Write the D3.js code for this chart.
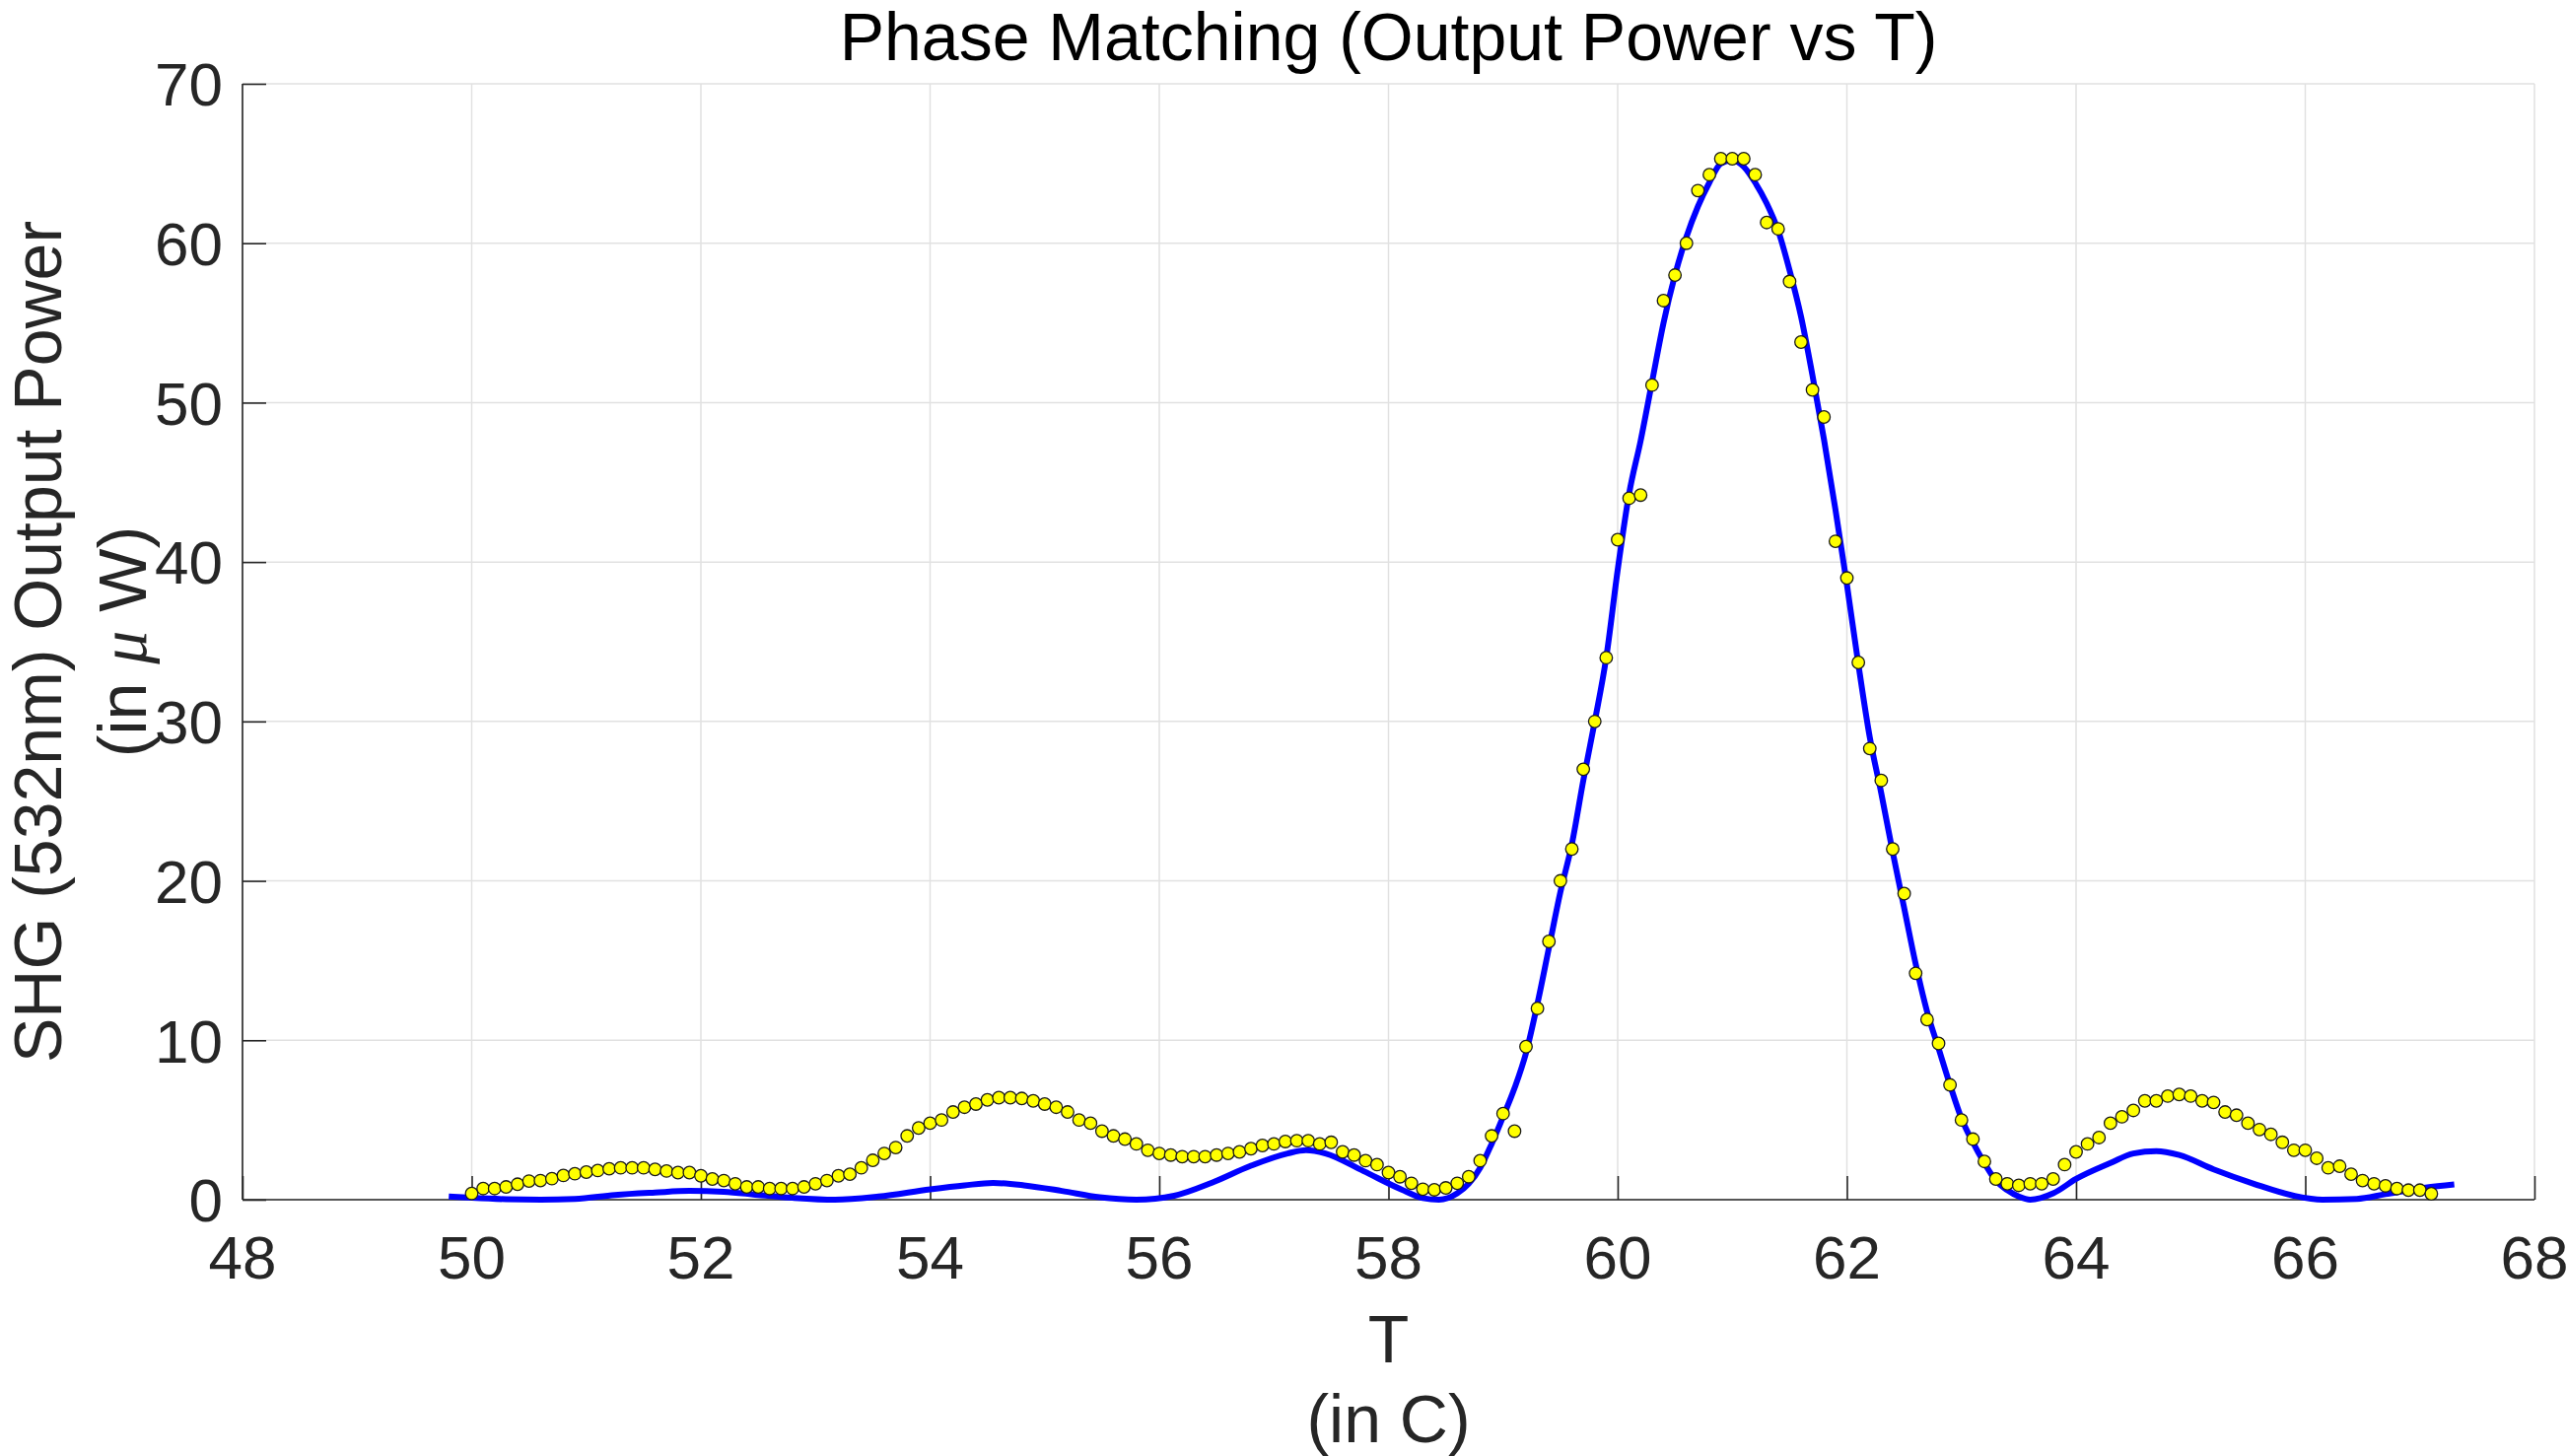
<!DOCTYPE html>
<html>
<head>
<meta charset="utf-8">
<script src="https://cdn.jsdelivr.net/npm/d3@7"></script>
<style>
  body { margin: 0; background: #fff; }
  text { font-family: "Liberation Sans", Arial, Helvetica, sans-serif; }
</style>
</head>
<body>
<svg width="2604" height="1477"></svg>
<script>
// measured SHG power (yellow dots)
var measT = [
  50.0, 50.1, 50.2, 50.3, 50.4, 50.5, 50.6, 50.7, 50.8, 50.9,
  51.0, 51.1, 51.2, 51.3, 51.4, 51.5, 51.6, 51.7, 51.8, 51.9,
  52.0, 52.1, 52.2, 52.3, 52.4, 52.5, 52.6, 52.7, 52.8, 52.9,
  53.0, 53.1, 53.2, 53.3, 53.4, 53.5, 53.6, 53.7, 53.8, 53.9,
  54.0, 54.1, 54.2, 54.3, 54.4, 54.5, 54.6, 54.7, 54.8, 54.9,
  55.0, 55.1, 55.2, 55.3, 55.4, 55.5, 55.6, 55.7, 55.8, 55.9,
  56.0, 56.1, 56.2, 56.3, 56.4, 56.5, 56.6, 56.7, 56.8, 56.9,
  57.0, 57.1, 57.2, 57.3, 57.4, 57.5, 57.6, 57.7, 57.8, 57.9,
  58.0, 58.1, 58.2, 58.3, 58.4, 58.5, 58.6, 58.7, 58.8, 58.9,
  59.0, 59.1, 59.2, 59.3, 59.4, 59.5, 59.6, 59.7, 59.8, 59.9,
  60.0, 60.1, 60.2, 60.3, 60.4, 60.5, 60.6, 60.7, 60.8, 60.9,
  61.0, 61.1, 61.2, 61.3, 61.4, 61.5, 61.6, 61.7, 61.8, 61.9,
  62.0, 62.1, 62.2, 62.3, 62.4, 62.5, 62.6, 62.7, 62.8, 62.9,
  63.0, 63.1, 63.2, 63.3, 63.4, 63.5, 63.6, 63.7, 63.8, 63.9,
  64.0, 64.1, 64.2, 64.3, 64.4, 64.5, 64.6, 64.7, 64.8, 64.9,
  65.0, 65.1, 65.2, 65.3, 65.4, 65.5, 65.6, 65.7, 65.8, 65.9,
  66.0, 66.1, 66.2, 66.3, 66.4, 66.5, 66.6, 66.7, 66.8, 66.9,
  67.0, 67.1
];
var measP = [
  0.39, 0.70, 0.70, 0.80, 0.97, 1.17, 1.20, 1.32, 1.52, 1.63,
  1.73, 1.83, 1.94, 2.00, 2.00, 2.00, 1.90, 1.80, 1.70, 1.70,
  1.50, 1.30, 1.20, 1.00, 0.80, 0.80, 0.70, 0.70, 0.70, 0.80,
  1.00, 1.20, 1.50, 1.60, 2.00, 2.47, 2.90, 3.27, 4.00, 4.50,
  4.80, 5.00, 5.50, 5.80, 6.00, 6.26, 6.40, 6.40, 6.35, 6.20,
  6.00, 5.80, 5.50, 5.00, 4.80, 4.30, 4.00, 3.80, 3.50, 3.10,
  2.90, 2.80, 2.70, 2.70, 2.70, 2.80, 2.90, 3.00, 3.20, 3.40,
  3.50, 3.65, 3.70, 3.70, 3.50, 3.60, 3.00, 2.80, 2.45, 2.20,
  1.70, 1.44, 1.03, 0.66, 0.62, 0.74, 1.03, 1.44, 2.45, 4.00,
  5.40, 4.30, 9.60, 12.0, 16.2, 20.0, 22.0, 27.0, 30.0, 34.0,
  41.4, 44.0, 44.2, 51.1, 56.4, 58.0, 60.0, 63.3, 64.3, 65.3,
  65.3, 65.3, 64.3, 61.3, 60.9, 57.6, 53.8, 50.8, 49.1, 41.3,
  39.0, 33.7, 28.3, 26.3, 22.0, 19.2, 14.2, 11.3, 9.80, 7.20,
  5.00, 3.80, 2.40, 1.30, 1.00, 0.90, 1.00, 1.00, 1.30, 2.20,
  3.00, 3.50, 3.90, 4.80, 5.20, 5.60, 6.20, 6.20, 6.50, 6.60,
  6.50, 6.20, 6.10, 5.50, 5.30, 4.80, 4.40, 4.10, 3.60, 3.10,
  3.10, 2.60, 2.00, 2.10, 1.60, 1.20, 1.00, 0.87, 0.70, 0.60,
  0.60, 0.37
];

// theory curve (blue line)
var fitT = [
  49.8, 50.0, 50.3, 50.6, 50.9, 51.25, 51.6, 51.9, 52.2, 52.5,
  52.8, 53.17, 53.55, 54.0, 54.3, 54.55, 54.82, 55.15, 55.48, 55.8,
  56.13, 56.46, 56.79, 57.12, 57.28, 57.45, 57.78, 58.11, 58.3, 58.44,
  58.6, 58.7, 58.8, 58.9, 59.0, 59.1, 59.2, 59.3, 59.4, 59.5,
  59.6, 59.7, 59.8, 59.9, 60.0, 60.1, 60.2, 60.3, 60.4, 60.5,
  60.6, 60.7, 60.8, 60.9, 61.0, 61.1, 61.2, 61.3, 61.4, 61.5,
  61.6, 61.7, 61.8, 61.9, 62.0, 62.1, 62.2, 62.3, 62.4, 62.5,
  62.6, 62.7, 62.8, 62.9, 63.0, 63.1, 63.2, 63.3, 63.4, 63.5,
  63.6, 63.8, 64.0, 64.3, 64.5, 64.7, 64.9, 65.2, 65.55, 65.9,
  66.15, 66.45, 66.7, 67.05, 67.3
];
var fitP = [
  0.20, 0.12, 0.03, 0.00, 0.05, 0.30, 0.45, 0.55, 0.50, 0.30,
  0.12, 0.00, 0.20, 0.65, 0.90, 1.05, 0.90, 0.55, 0.15, 0.00,
  0.25, 1.07, 2.10, 2.90, 3.10, 2.90, 1.80, 0.65, 0.10, 0.00,
  0.40, 1.00, 2.00, 3.50, 5.20, 7.00, 9.20, 12.3, 15.8, 19.3,
  22.3, 26.3, 30.0, 34.0, 39.5, 44.3, 47.6, 51.3, 55.0, 58.0,
  60.4, 62.3, 63.8, 65.0, 65.2, 64.8, 63.8, 62.5, 60.8, 58.3,
  55.4, 51.7, 47.7, 43.3, 38.6, 33.6, 29.0, 25.5, 21.8, 18.3,
  14.8, 11.8, 9.50, 7.20, 5.10, 3.60, 2.30, 1.20, 0.60, 0.20,
  0.00, 0.40, 1.30, 2.30, 2.90, 3.05, 2.80, 1.90, 1.00, 0.25,
  0.00, 0.05, 0.35, 0.76, 0.96
];

var xTicks = [48, 50, 52, 54, 56, 58, 60, 62, 64, 66, 68];
var yTicks = [0, 10, 20, 30, 40, 50, 60, 70];

var svg = d3.select("svg");
var margin = {top: 85, right: 33, bottom: 260, left: 246};
var width = svg.attr("width") - margin.left - margin.right;
var height = svg.attr("height") - margin.top - margin.bottom;
var axisColor = "#262626";

var x = d3.scaleLinear().domain([48, 68]).range([0, width]);
var y = d3.scaleLinear().domain([0, 70]).range([height, 0]);

var g = svg.append("g")
    .attr("transform", "translate(" + margin.left + "," + margin.top + ")");

// grid
g.append("g").selectAll("line").data(xTicks).enter().append("line")
    .attr("x1", function(d) { return x(d); })
    .attr("x2", function(d) { return x(d); })
    .attr("y1", 0).attr("y2", height)
    .attr("stroke", "#e1e1e1").attr("stroke-width", 1.5);
g.append("g").selectAll("line").data(yTicks).enter().append("line")
    .attr("y1", function(d) { return y(d); })
    .attr("y2", function(d) { return y(d); })
    .attr("x1", 0).attr("x2", width)
    .attr("stroke", "#e1e1e1").attr("stroke-width", 1.5);

// axes, ticks pointing inward
var xAxis = g.append("g")
    .attr("transform", "translate(0," + height + ")")
    .call(d3.axisTop(x).tickValues(xTicks).tickSize(24).tickFormat(""));
var yAxis = g.append("g")
    .call(d3.axisRight(y).tickValues(yTicks).tickSize(24).tickFormat(""));
[xAxis, yAxis].forEach(function(a) {
  a.selectAll("path, line").attr("stroke", axisColor).attr("stroke-width", 1.6);
  a.select("path").attr("d", a === xAxis ? "M0,0H" + width : "M0,0V" + height);
});

g.append("g").selectAll("text").data(xTicks).enter().append("text")
    .attr("x", function(d) { return x(d); })
    .attr("y", height + 80)
    .attr("text-anchor", "middle")
    .attr("font-size", 62)
    .attr("fill", axisColor)
    .text(function(d) { return d; });

g.append("g").selectAll("text").data(yTicks).enter().append("text")
    .attr("x", -20)
    .attr("y", function(d) { return y(d); })
    .attr("dy", "0.36em")
    .attr("text-anchor", "end")
    .attr("font-size", 62)
    .attr("fill", axisColor)
    .text(function(d) { return d; });

// theory line
var fit = fitT.map(function(t, i) { return [t, fitP[i]]; });
g.append("path")
    .datum(fit)
    .attr("fill", "none")
    .attr("stroke", "#0000ff")
    .attr("stroke-width", 6)
    .attr("stroke-linejoin", "round")
    .attr("d", d3.line()
        .curve(d3.curveMonotoneX)
        .x(function(d) { return x(d[0]); })
        .y(function(d) { return y(d[1]); }));

// measured points
g.append("g").selectAll("circle").data(measT).enter().append("circle")
    .attr("cx", function(d) { return x(d); })
    .attr("cy", function(d, i) { return y(measP[i]); })
    .attr("r", 6.3)
    .attr("fill", "#ffff00")
    .attr("stroke", "#1a1a1a")
    .attr("stroke-width", 1.3);

// title and labels
svg.append("text")
    .attr("x", margin.left + width / 2)
    .attr("y", 61)
    .attr("text-anchor", "middle")
    .attr("font-size", 68)
    .attr("fill", "#000")
    .text("Phase Matching (Output Power vs T)");

svg.append("text")
    .attr("x", margin.left + width / 2)
    .attr("y", 1382)
    .attr("text-anchor", "middle")
    .attr("font-size", 68)
    .attr("fill", axisColor)
    .text("T");
svg.append("text")
    .attr("x", margin.left + width / 2)
    .attr("y", 1463)
    .attr("text-anchor", "middle")
    .attr("font-size", 68)
    .attr("fill", axisColor)
    .text("(in C)");

var yMid = margin.top + height / 2;
svg.append("text")
    .attr("transform", "translate(62," + yMid + ") rotate(-90)")
    .attr("text-anchor", "middle")
    .attr("font-size", 68)
    .attr("fill", axisColor)
    .text("SHG (532nm) Output Power");
var yl2 = svg.append("text")
    .attr("transform", "translate(148," + yMid + ") rotate(-90)")
    .attr("text-anchor", "middle")
    .attr("font-size", 68)
    .attr("fill", axisColor);
yl2.append("tspan").text("(in ");
yl2.append("tspan")
    .attr("font-family", "'Liberation Serif', 'DejaVu Serif', serif")
    .attr("font-style", "italic")
    .text("μ");
yl2.append("tspan").text(" W)");
</script>
</body>
</html>
